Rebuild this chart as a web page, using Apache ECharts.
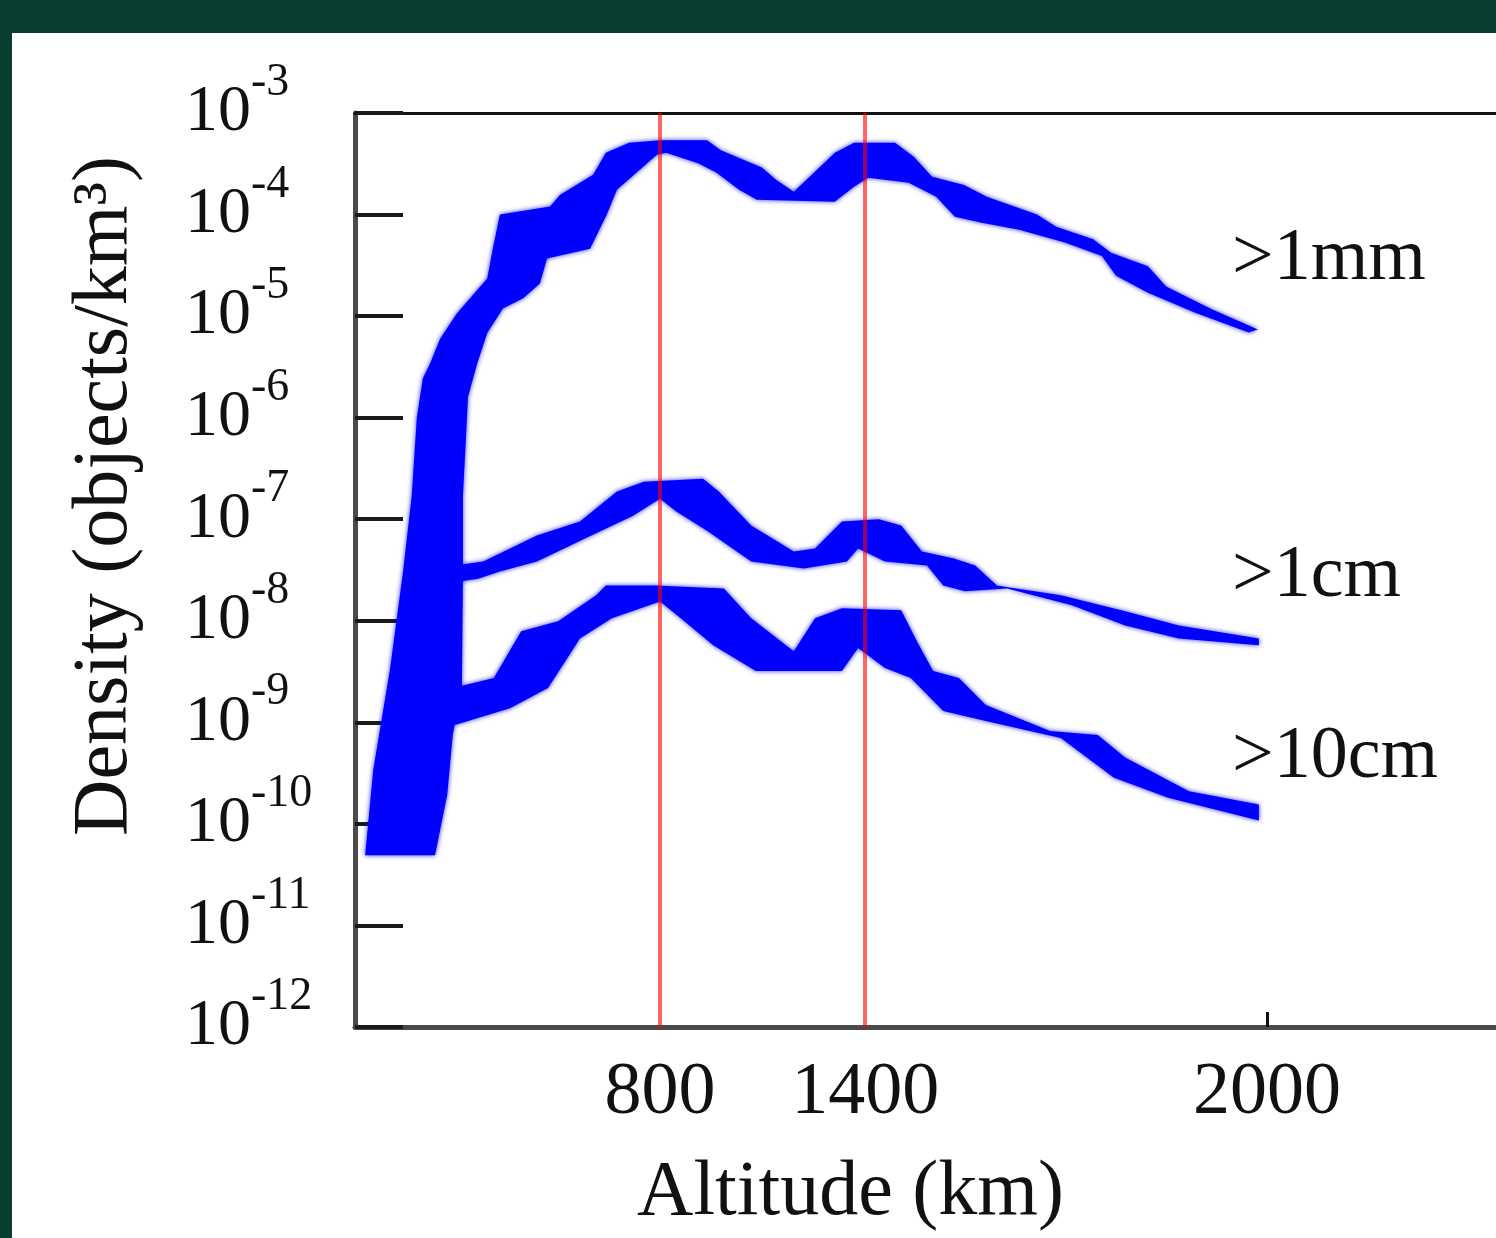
<!DOCTYPE html>
<html>
<head>
<meta charset="utf-8">
<script src="https://cdn.jsdelivr.net/npm/echarts@6/dist/echarts.min.js"></script>
<style>
html, body { margin: 0; padding: 0; background: #083e31; }
#chart { position: absolute; left: 12px; top: 33px; width: 1484px; height: 1205px; background: #fff; }
</style>
</head>
<body>
<div id="chart"></div>
<script>
// altitude (km), density (objects/km^3)
var mmUpper = [
    [220, 4.9e-11], [236, 3.4e-10], [269, 3.3e-9], [295, 3.1e-8], [312, 1.7e-7],
    [322, 1.0e-6], [334, 2.45e-6], [348, 3.4e-6], [368, 6.0e-6], [401, 1.06e-5],
    [461, 2.35e-5], [472, 4.6e-5], [486, 1.0e-4], [585, 1.2e-4], [605, 1.57e-4],
    [670, 2.46e-4], [695, 4.05e-4], [741, 5.1e-4], [804, 5.4e-4], [895, 5.4e-4],
    [922, 4.3e-4], [1003, 2.9e-4], [1031, 2.2e-4], [1066, 1.68e-4], [1112, 2.76e-4],
    [1147, 4.05e-4], [1185, 5.1e-4], [1266, 5.1e-4], [1303, 3.7e-4], [1339, 2.36e-4],
    [1402, 1.96e-4], [1447, 1.5e-4], [1546, 1.0e-4], [1584, 7.6e-5], [1657, 5.7e-5],
    [1692, 4.2e-5], [1765, 3.1e-5], [1801, 1.96e-5], [1891, 1.17e-5], [1982, 7.4e-6]
];
var mmLower = [
    [358, 4.9e-11], [382, 1.94e-10], [393, 7.5e-10], [411, 2.3e-9], [413, 2.7e-8],
    [413, 1.67e-7], [421, 1.0e-6], [423, 1.6e-6], [441, 3.4e-6], [461, 6.8e-6],
    [492, 1.19e-5], [532, 1.5e-5], [565, 2.1e-5], [579, 3.7e-5], [664, 4.6e-5],
    [697, 1.0e-4], [717, 1.75e-4], [796, 3.87e-4], [814, 4.05e-4], [877, 3.2e-4],
    [913, 2.6e-4], [958, 1.75e-4], [993, 1.4e-4], [1147, 1.34e-4], [1185, 1.88e-4],
    [1213, 2.3e-4], [1293, 2.06e-4], [1347, 1.5e-4], [1384, 9.5e-5], [1437, 8.3e-5],
    [1511, 7.1e-5], [1601, 5.3e-5], [1674, 3.9e-5], [1702, 2.5e-5], [1765, 1.7e-5],
    [1856, 1.09e-5], [1964, 6.9e-6]
];
var cmUpper = [
    [397, 3.5e-8], [453, 3.84e-8], [559, 6.9e-8], [644, 9.5e-8], [717, 1.87e-7],
    [770, 2.34e-7], [887, 2.5e-7], [918, 1.87e-7], [982, 8.65e-8], [1066, 4.8e-8],
    [1108, 5.15e-8], [1161, 9.5e-8], [1234, 1.0e-7], [1278, 8.65e-8], [1319, 4.8e-8],
    [1382, 4.1e-8], [1424, 3.5e-8], [1467, 2.23e-8], [1593, 1.78e-8], [1720, 1.24e-8],
    [1826, 9.0e-9], [1984, 6.7e-9]
];
var cmLower = [
    [397, 2.4e-8], [443, 2.6e-8], [486, 3.06e-8], [559, 3.84e-8], [654, 6.45e-8],
    [749, 1.08e-7], [802, 1.59e-7], [834, 1.19e-7], [897, 7.55e-8], [982, 3.84e-8],
    [1086, 3.28e-8], [1171, 3.84e-8], [1193, 5.15e-8], [1246, 3.84e-8], [1329, 3.5e-8],
    [1361, 2.23e-8], [1404, 1.95e-8], [1487, 2.08e-8], [1615, 1.42e-8], [1720, 9.0e-9],
    [1826, 6.7e-9], [1984, 5.75e-9]
];
var dcmUpper = [
    [397, 2.2e-9], [474, 2.73e-9], [528, 7.9e-9], [601, 9.9e-9], [676, 1.78e-8],
    [695, 2.23e-8], [792, 2.23e-8], [928, 2.08e-8], [982, 1.06e-8], [1066, 5.0e-9],
    [1108, 1.06e-8], [1161, 1.33e-8], [1278, 1.27e-8], [1309, 6.3e-9], [1341, 3.2e-9],
    [1392, 2.73e-9], [1445, 1.48e-9], [1572, 8.2e-10], [1666, 7.5e-10], [1720, 4.5e-10],
    [1846, 2.1e-10], [1984, 1.55e-10]
];
var dcmLower = [
    [397, 9.4e-10], [506, 1.38e-9], [581, 2.18e-9], [644, 6.7e-9], [707, 1.06e-8],
    [802, 1.55e-8], [843, 1.06e-8], [907, 5.75e-9], [991, 3.2e-9], [1161, 3.2e-9],
    [1193, 5.4e-9], [1246, 3.42e-9], [1297, 2.73e-9], [1361, 1.29e-9], [1445, 1.03e-9],
    [1593, 7.0e-10], [1698, 2.85e-10], [1805, 1.81e-10], [1984, 1.08e-10]
];

var sizeNames = ['>1mm', '>1cm', '>10cm'];
var sizeLabelPos = [[1931, 3.6e-5], [1931, 2.7e-8], [1931, 4.5e-10]];

var redLines = [802, 1207];
var xTickValues = [802, 1207, 2000];
var xTickLabels = ['800', '1400', '2000'];
var xTickMarks = [2000];

var serif = "'Liberation Serif', 'Times New Roman', serif";
var myChart = echarts.init(document.getElementById('chart'));

function band(upper, lower) {
    return {
        type: 'custom',
        coordinateSystem: 'cartesian2d',
        silent: true,
        z: 2,
        data: [upper[0]],
        renderItem: function (params, api) {
            var pts = upper.map(function (p) { return api.coord(p); })
                .concat(lower.slice().reverse().map(function (p) { return api.coord(p); }));
            return {
                type: 'polygon',
                shape: { points: pts },
                style: { fill: '#0000ff', shadowBlur: 5, shadowColor: 'rgba(0,0,255,0.8)' }
            };
        }
    };
}

option = {
    animation: false,
    grid: { left: 343, right: 0, top: 80, bottom: 208 },
    xAxis: [{
        type: 'value',
        min: 200,
        max: 2452,
        position: 'bottom',
        name: 'Altitude (km)',
        nameLocation: 'middle',
        nameGap: 128,
        nameTextStyle: { fontFamily: serif, fontSize: 78, color: '#111', padding: [0, 150, 0, 0] },
        axisLine: { lineStyle: { color: '#4a4a4a', width: 5 } },
        axisTick: { show: true, inside: true, length: 15, customValues: xTickMarks,
            lineStyle: { color: '#111', width: 3 } },
        axisLabel: {
            customValues: xTickValues,
            formatter: function (v) { return xTickLabels[xTickValues.indexOf(v)]; },
            fontFamily: serif, fontSize: 74, color: '#111', margin: 30
        },
        splitLine: { show: false }
    }, {
        type: 'value',
        min: 200,
        max: 2452,
        position: 'top',
        axisLine: { show: true, lineStyle: { color: '#111', width: 3 } },
        axisTick: { show: false },
        axisLabel: { show: false },
        splitLine: { show: false }
    }],
    yAxis: {
        type: 'log',
        logBase: 10,
        min: 1e-12,
        max: 1e-3,
        splitNumber: 9,
        name: 'Density (objects/km³)',
        nameLocation: 'middle',
        nameGap: 210,
        nameRotate: 90,
        nameTextStyle: { fontFamily: serif, fontSize: 78, color: '#111', padding: [0, 0, 0, 148] },
        axisLine: { show: true, lineStyle: { color: '#4a4a4a', width: 5 } },
        axisTick: { show: true, inside: true, length: 48, lineStyle: { color: '#1a1a1a', width: 4 } },
        axisLabel: {
            margin: 170,
            align: 'left',
            formatter: function (v) {
                return '{b|10}{s|' + Math.round(Math.log10(v)) + '}';
            },
            rich: {
                b: { fontFamily: serif, fontSize: 66, color: '#111' },
                s: { fontFamily: serif, fontSize: 46, color: '#111', padding: [0, 0, 60, 0] }
            }
        },
        splitLine: { show: false }
    },
    series: [
        band(mmUpper, mmLower),
        band(cmUpper, cmLower),
        band(dcmUpper, dcmLower),
        {
            type: 'line',
            data: [],
            silent: true,
            z: 5,
            markLine: {
                silent: true,
                symbol: 'none',
                label: { show: false },
                lineStyle: { color: 'rgba(255,0,0,0.6)', width: 4, type: 'solid' },
                data: redLines.map(function (x) { return { xAxis: x }; })
            }
        },
        {
            type: 'custom',
            coordinateSystem: 'cartesian2d',
            silent: true,
            z: 6,
            data: sizeLabelPos,
            renderItem: function (params, api) {
                var pt = api.coord([api.value(0), api.value(1)]);
                return {
                    type: 'text',
                    x: pt[0],
                    y: pt[1],
                    style: {
                        text: sizeNames[params.dataIndex],
                        fontFamily: serif,
                        fontSize: 74,
                        fill: '#111',
                        align: 'left',
                        verticalAlign: 'middle'
                    }
                };
            }
        }
    ]
};

myChart.setOption(option);
</script>
</body>
</html>
